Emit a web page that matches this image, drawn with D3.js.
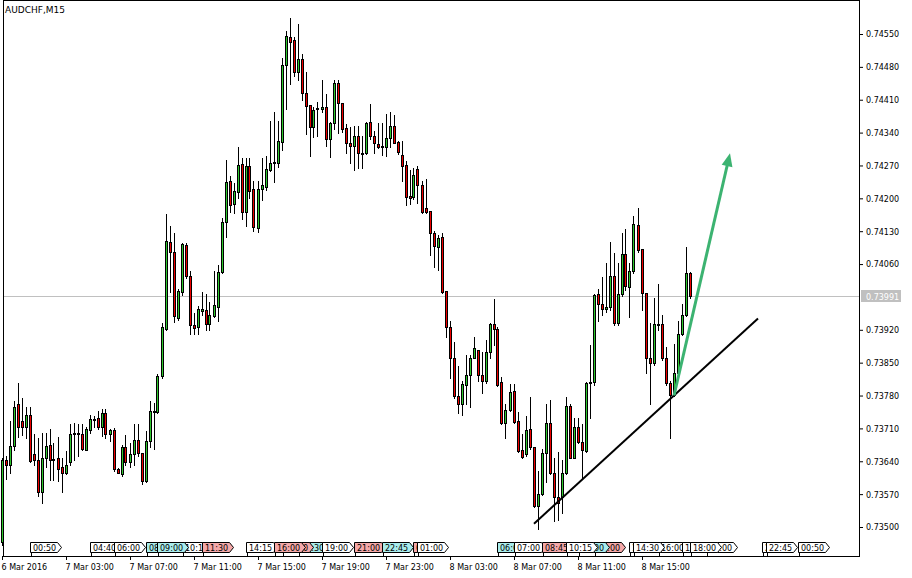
<!DOCTYPE html>
<html><head><meta charset="utf-8">
<script src="https://cdn.jsdelivr.net/npm/d3@7"></script>
<style>
html,body{margin:0;padding:0;background:#fff;}
svg{display:block;font-family:"DejaVu Sans",sans-serif;}
</style></head><body>
<svg id="c" width="912" height="578"></svg>
<script>
const symbolTitle = "AUDCHF,M15";
const startTime = "2016-03-06 23:00";
const barMinutes = 15;
const open = [
0.73469,0.73642,0.73633,0.73672,0.73763,0.73725,0.73714,0.73738,0.73655,0.73642,
0.73574,0.73648,0.73674,0.73645,0.73646,0.73627,0.73616,0.73638,0.73699,0.73700,
0.73699,0.73665,0.73706,0.73727,0.73733,0.73712,0.73742,0.73699,0.73706,0.73623,
0.73612,0.73670,0.73638,0.73655,0.73686,0.73657,0.73597,0.73684,0.73748,0.73744,
0.73821,0.73921,0.74107,0.74085,0.73945,0.74000,0.74100,0.74034,0.73930,0.73925,
0.73960,0.73962,0.73932,0.73949,0.73968,0.74043,0.74149,0.74237,0.74188,0.74213,
0.74273,0.74171,0.74269,0.74220,0.74136,0.74220,0.74224,0.74260,0.74275,0.74275,
0.74320,0.74484,0.74544,0.74537,0.74469,0.74497,0.74424,0.74399,0.74352,0.74390,
0.74390,0.74394,0.74326,0.74360,0.74446,0.74403,0.74350,0.74318,0.74311,0.74333,
0.74296,0.74296,0.74362,0.74333,0.74315,0.74309,0.74309,0.74328,0.74354,0.74320,
0.74292,0.74271,0.74205,0.74202,0.74262,0.74228,0.74179,0.74173,0.74126,0.74096,
0.74117,0.74002,0.73927,0.73861,0.73780,0.73761,0.73802,0.73823,0.73861,0.73878,
0.73823,0.73810,0.73872,0.73932,0.73921,0.73808,0.73721,0.73750,0.73789,0.73725,
0.73663,0.73655,0.73708,0.73670,0.73544,0.73571,0.73657,0.73721,0.73616,0.73563,
0.73563,0.73616,0.73757,0.73648,0.73712,0.73680,0.73661,0.73806,0.73808,0.73996,
0.73974,0.73964,0.73968,0.74034,0.73934,0.73996,0.74081,0.74011,0.74045,0.74143,
0.74092,0.73998,0.73861,0.73849,0.73932,0.73932,0.73861,0.73806,0.73782,0.73827,
0.73912,0.73951,0.74040];
const high = [
0.73646,0.73652,0.73725,0.73768,0.73806,0.73774,0.73755,0.73755,0.73699,0.73689,
0.73701,0.73701,0.73708,0.73678,0.73691,0.73646,0.73661,0.73719,0.73721,0.73719,
0.73719,0.73714,0.73738,0.73736,0.73748,0.73751,0.73751,0.73708,0.73710,0.73625,
0.73674,0.73695,0.73678,0.73719,0.73719,0.73657,0.73704,0.73768,0.73765,0.73825,
0.73934,0.74166,0.74141,0.74126,0.74006,0.74104,0.74104,0.74045,0.73955,0.73970,
0.74000,0.73996,0.73979,0.74045,0.74058,0.74158,0.74281,0.74247,0.74232,0.74309,
0.74286,0.74286,0.74286,0.74237,0.74237,0.74286,0.74290,0.74365,0.74384,0.74365,
0.74499,0.74556,0.74584,0.74544,0.74571,0.74507,0.74469,0.74399,0.74394,0.74405,
0.74452,0.74422,0.74362,0.74452,0.74452,0.74403,0.74358,0.74352,0.74354,0.74354,
0.74333,0.74362,0.74401,0.74343,0.74360,0.74360,0.74379,0.74384,0.74377,0.74322,
0.74322,0.74279,0.74260,0.74264,0.74269,0.74237,0.74241,0.74173,0.74130,0.74121,
0.74126,0.74002,0.73938,0.73895,0.73842,0.73812,0.73866,0.73866,0.73904,0.73878,
0.73872,0.73898,0.73934,0.73985,0.73925,0.73819,0.73763,0.73804,0.73804,0.73744,
0.73699,0.73736,0.73776,0.73670,0.73620,0.73667,0.73761,0.73770,0.73648,0.73659,
0.73642,0.73776,0.73761,0.73733,0.73733,0.73719,0.73808,0.73887,0.73996,0.74006,
0.74032,0.74062,0.74107,0.74083,0.74062,0.74126,0.74134,0.74062,0.74162,0.74179,
0.74092,0.73998,0.73934,0.73987,0.74017,0.73951,0.73883,0.73812,0.73889,0.73938,
0.73974,0.74096,0.74043];
const low = [
0.73461,0.73603,0.73616,0.73663,0.73691,0.73695,0.73689,0.73638,0.73633,0.73565,
0.73552,0.73627,0.73601,0.73601,0.73599,0.73574,0.73612,0.73633,0.73642,0.73652,
0.73665,0.73663,0.73701,0.73712,0.73708,0.73693,0.73689,0.73684,0.73620,0.73614,
0.73608,0.73631,0.73627,0.73631,0.73652,0.73591,0.73595,0.73670,0.73667,0.73742,
0.73817,0.73919,0.74000,0.73936,0.73940,0.73994,0.74030,0.73910,0.73910,0.73910,
0.73951,0.73919,0.73919,0.73947,0.73938,0.74040,0.74117,0.74171,0.74168,0.74200,
0.74156,0.74141,0.74200,0.74130,0.74128,0.74196,0.74217,0.74258,0.74234,0.74266,
0.74303,0.74390,0.74443,0.74460,0.74452,0.74409,0.74337,0.74290,0.74330,0.74333,
0.74384,0.74311,0.74288,0.74347,0.74339,0.74341,0.74296,0.74275,0.74260,0.74264,
0.74264,0.74294,0.74326,0.74296,0.74308,0.74292,0.74290,0.74309,0.74317,0.74294,
0.74237,0.74185,0.74188,0.74198,0.74190,0.74168,0.74168,0.74079,0.74053,0.74047,
0.73998,0.73904,0.73817,0.73774,0.73742,0.73738,0.73763,0.73755,0.73859,0.73812,
0.73785,0.73806,0.73859,0.73887,0.73800,0.73719,0.73689,0.73746,0.73721,0.73659,
0.73646,0.73652,0.73667,0.73542,0.73495,0.73569,0.73595,0.73612,0.73512,0.73514,
0.73529,0.73612,0.73646,0.73646,0.73678,0.73605,0.73659,0.73733,0.73802,0.73938,
0.73951,0.73957,0.73962,0.73930,0.73930,0.73991,0.74004,0.73947,0.74040,0.74085,
0.73962,0.73829,0.73761,0.73844,0.73919,0.73855,0.73802,0.73689,0.73778,0.73823,
0.73908,0.73949,0.73987];
const close = [
0.73642,0.73633,0.73672,0.73755,0.73714,0.73714,0.73738,0.73640,0.73642,0.73574,
0.73648,0.73672,0.73642,0.73644,0.73623,0.73616,0.73633,0.73699,0.73700,0.73699,
0.73667,0.73708,0.73729,0.73729,0.73714,0.73742,0.73699,0.73706,0.73623,0.73616,
0.73670,0.73638,0.73655,0.73686,0.73657,0.73597,0.73684,0.73746,0.73744,0.73821,
0.73925,0.74109,0.74085,0.73949,0.74002,0.74102,0.74034,0.73930,0.73923,0.73964,
0.73964,0.73932,0.73951,0.73972,0.74043,0.74149,0.74234,0.74185,0.74215,0.74271,
0.74171,0.74269,0.74215,0.74138,0.74220,0.74228,0.74262,0.74275,0.74277,0.74322,
0.74484,0.74546,0.74533,0.74469,0.74497,0.74424,0.74396,0.74352,0.74388,0.74392,
0.74394,0.74326,0.74360,0.74446,0.74403,0.74347,0.74318,0.74311,0.74333,0.74296,
0.74294,0.74360,0.74333,0.74318,0.74309,0.74311,0.74328,0.74354,0.74318,0.74298,
0.74269,0.74202,0.74200,0.74249,0.74228,0.74171,0.74171,0.74126,0.74098,0.74115,
0.74000,0.73927,0.73859,0.73778,0.73763,0.73804,0.73823,0.73861,0.73881,0.73823,
0.73810,0.73872,0.73932,0.73921,0.73802,0.73721,0.73750,0.73787,0.73723,0.73661,
0.73650,0.73706,0.73670,0.73544,0.73571,0.73657,0.73721,0.73616,0.73563,0.73552,
0.73616,0.73757,0.73648,0.73712,0.73680,0.73663,0.73806,0.73808,0.73994,0.73974,
0.73964,0.73968,0.74034,0.73934,0.73996,0.74081,0.74013,0.74045,0.74145,0.74090,
0.73998,0.73861,0.73849,0.73932,0.73931,0.73859,0.73806,0.73782,0.73827,0.73912,
0.73951,0.74040,0.73991];
const priceTicks = [0.73500,0.73570,0.73640,0.73710,0.73780,0.73850,0.73920,0.74060,0.74130,0.74200,0.74270,0.74340,0.74410,0.74480,0.74550];
const lastPrice = 0.73991;
const timeTicks = ["2016-03-06 23:00","2016-03-07 03:00","2016-03-07 07:00","2016-03-07 11:00","2016-03-07 15:00","2016-03-07 19:00","2016-03-07 23:00","2016-03-08 03:00","2016-03-08 07:00","2016-03-08 11:00","2016-03-08 15:00"];
const timeTickLabels = ["6 Mar 2016","7 Mar 03:00","7 Mar 07:00","7 Mar 11:00","7 Mar 15:00","7 Mar 19:00","7 Mar 23:00","8 Mar 03:00","8 Mar 07:00","8 Mar 11:00","8 Mar 15:00"];
// calendar event markers (bar time, label, kind) in drawing order
const eventBars = ["2016-03-07 00:45","2016-03-07 04:30","2016-03-07 06:00","2016-03-07 08:00","2016-03-07 10:15","2016-03-07 08:45","2016-03-07 11:30","2016-03-07 14:15","2016-03-07 17:30","2016-03-07 16:30","2016-03-07 16:00","2016-03-07 19:00","2016-03-07 21:00","2016-03-07 22:45","2016-03-08 00:45","2016-03-08 01:00","2016-03-08 06:00","2016-03-08 07:00","2016-03-08 08:45","2016-03-08 12:00","2016-03-08 11:00","2016-03-08 10:15","2016-03-08 14:15","2016-03-08 16:00","2016-03-08 14:30","2016-03-08 17:30","2016-03-08 19:00","2016-03-08 18:00","2016-03-08 22:30","2016-03-08 22:45","2016-03-09 00:45"];
const eventLabels = ["00:50","04:40","06:00","08:00","10:15","09:00","11:30","14:15","17:30","16:30","16:00","19:00","21:00","22:45","00:45","01:00","06:00","07:00","08:45","12:00","11:00","10:15","14:15","16:00","14:30","17:30","19:00","18:00","22:30","22:45","00:50"];
const eventKinds = ["w","w","w","c","w","c","p","w","c","p","p","w","p","c","p","w","c","w","p","p","c","w","w","w","w","w","w","w","w","w","w"];
const trendTimes = ["2016-03-08 08:15","2016-03-08 22:15"];
const trendPrices = [0.73507,0.73944];
const arrowTimes = ["2016-03-08 17:00","2016-03-08 20:30"];
const arrowPrices = [0.73780,0.74296];

const kindFill = {w:"#ffffff", c:"#a8ecec", p:"#f5a8a8"};
const bullFill = "#2ec82e", bearFill = "#ee0000";

const svg = d3.select("#c");
const parseT = d3.utcParse("%Y-%m-%d %H:%M");
const t0 = parseT(startTime);
const times = open.map((_, i) => new Date(t0.getTime() + i * barMinutes * 60000));
const x = d3.scaleUtc().domain([times[0], times[times.length - 1]]).range([2, 2 + 4 * (times.length - 1)]);
const y = d3.scaleLinear().domain([0.735, 0.7455]).range([527, 34]);
const cx = t => Math.floor(x(t)) + 0.5;

const bars = open.map((o, i) => ({t: times[i], o, h: high[i], l: low[i], c: close[i]}));

// current price line
const yl = Math.floor(y(lastPrice)) + 0.5;
svg.append("line").attr("x1", 4).attr("x2", 859).attr("y1", yl).attr("y2", yl).attr("stroke", "#c0c0c0");

// candles
const gC = svg.append("g");
gC.selectAll("line").data(bars).join("line")
  .attr("x1", d => cx(d.t)).attr("x2", d => cx(d.t))
  .attr("y1", d => Math.round(y(d.h))).attr("y2", d => Math.round(y(d.l)) + 1)
  .attr("stroke", "#000");
gC.selectAll("rect").data(bars).join("rect")
  .attr("x", d => cx(d.t) - 1).attr("width", 2)
  .attr("y", d => Math.round(y(Math.max(d.o, d.c))) + 0.5)
  .attr("height", d => Math.max(1, Math.round(y(Math.min(d.o, d.c))) - Math.round(y(Math.max(d.o, d.c)))))
  .attr("fill", d => d.c >= d.o ? bullFill : bearFill).attr("stroke", "#000");

// trend line
svg.append("line")
  .attr("x1", x(parseT(trendTimes[0]))).attr("y1", y(trendPrices[0]))
  .attr("x2", x(parseT(trendTimes[1]))).attr("y2", y(trendPrices[1]))
  .attr("stroke", "#000").attr("stroke-width", 2);

// arrow
{
  const x1 = x(parseT(arrowTimes[0])), y1 = y(arrowPrices[0]);
  const x2 = x(parseT(arrowTimes[1])), y2 = y(arrowPrices[1]);
  const dx = x2 - x1, dy = y2 - y1, len = Math.hypot(dx, dy);
  const ux = dx / len, uy = dy / len, nx = -uy, ny = ux;
  const hl = 13, hw = 5.5;
  const bx = x2 - ux * hl, by = y2 - uy * hl;
  svg.append("line").attr("x1", x1).attr("y1", y1).attr("x2", bx + ux * 2).attr("y2", by + uy * 2)
    .attr("stroke", "#3cb371").attr("stroke-width", 3);
  svg.append("polygon")
    .attr("points", [[x2, y2], [bx + nx * hw, by + ny * hw], [bx - nx * hw, by - ny * hw]].map(p => p.join(",")).join(" "))
    .attr("fill", "#3cb371");
}

// frame
svg.append("rect").attr("x", 3.5).attr("y", 0.5).attr("width", 856).attr("height", 556)
  .attr("fill", "none").attr("stroke", "#000");

// title
svg.append("text").attr("x", 5).attr("y", 13).attr("font-size", 9).attr("fill", "#000").text(symbolTitle);

// right price axis
const gY = svg.append("g").attr("transform", "translate(859,0)")
  .call(d3.axisRight(y).tickValues(priceTicks).tickFormat(d3.format(".5f")).tickSize(4).tickPadding(3));
gY.select(".domain").remove();
gY.attr("font-family", null).attr("font-size", null);
gY.selectAll("text").attr("font-size", 8).attr("fill", "#000").attr("dy", "0.36em");
gY.selectAll("line").attr("stroke", "#000");

// last price label
svg.append("rect").attr("x", 861).attr("y", yl - 6.5).attr("width", 40).attr("height", 12).attr("fill", "#c0c0c0");
svg.append("text").attr("x", 866).attr("y", yl + 3).attr("font-size", 8).attr("fill", "#fff").text(d3.format(".5f")(lastPrice));

// bottom time axis
const gX = svg.append("g").attr("transform", "translate(0,556)")
  .call(d3.axisBottom(x).tickValues(timeTicks.map(parseT)).tickFormat((d, i) => timeTickLabels[i]).tickSize(4).tickPadding(2));
gX.select(".domain").remove();
gX.attr("font-family", null).attr("font-size", null);
gX.selectAll("text").attr("font-size", 8).attr("fill", "#000").attr("text-anchor", "start").attr("x", -1).attr("dy", "0.95em");
gX.selectAll("line").attr("stroke", "#000");

// event markers
const gE = svg.append("g");
eventBars.forEach((tb, i) => {
  const x0 = Math.floor(x(parseT(tb))) + 0.5;
  const g = gE.append("g");
  const txt = g.append("text").attr("x", x0 + 2.5).attr("y", 550.5).attr("font-size", 8).attr("fill", "#000").text(eventLabels[i]);
  const w = txt.node().getComputedTextLength();
  const bw = Math.round(w + 4);
  g.insert("path", "text")
    .attr("d", `M${x0},542.5H${x0 + bw}L${x0 + bw + 4},547.5L${x0 + bw},552.5H${x0}Z`)
    .attr("fill", kindFill[eventKinds[i]]).attr("stroke", "#000");
  gE.append("line").attr("x1", x0 + 1).attr("x2", x0 + 1).attr("y1", 553).attr("y2", 556).attr("stroke", "#000");
});
</script>
</body></html>
